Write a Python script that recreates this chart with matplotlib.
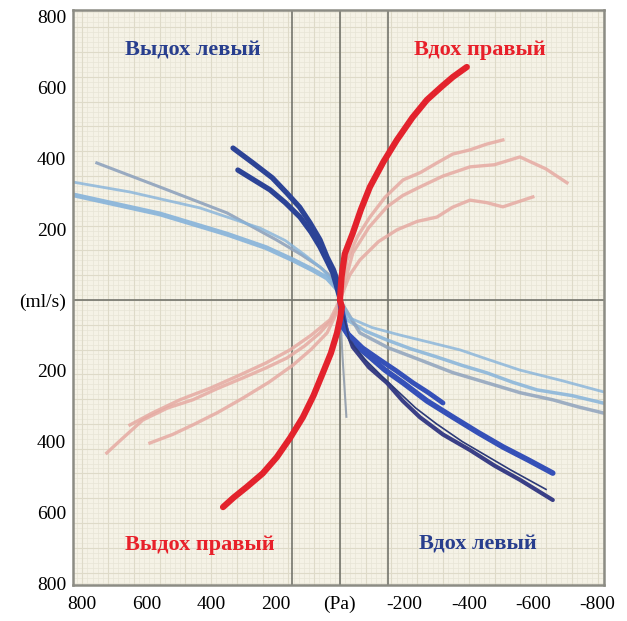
import matplotlib
matplotlib.use("Agg")
import matplotlib.pyplot as plt
import numpy as np

# ---------------- data (Pa vs ml/s) ----------------
x_ticks = [800, 600, 400, 200, 0, -200, -400, -600, -800]
x_labels = ['800', '600', '400', '200', '(Pa)', '-200', '-400', '-600', '-800']
y_ticks = [800, 600, 400, 200, 0, -200, -400, -600, -800]
y_labels = ['800', '600', '400', '200', '(ml/s)', '200', '400', '600', '800']

# exhale left (upper left), dark blue
exl_dark1_x = [332, 270, 210, 165, 125, 93, 62, 40, 20, 9, 0]
exl_dark1_y = [429, 387, 345, 302, 262, 218, 170, 121, 85, 56, 8]
exl_dark2_x = [317, 260, 217, 170, 124, 90, 62, 40, 22, 0]
exl_dark2_y = [367, 335, 311, 275, 234, 192, 150, 110, 76, 5]
# exhale left, light blue
exl_light1_x = [755, 559, 351, 196, 120, 62, 30, 9]
exl_light1_y = [387, 319, 246, 169, 128, 93, 68, 42]
exl_light2_x = [829, 652, 435, 248, 170, 109, 55, 22]
exl_light2_y = [333, 305, 260, 203, 168, 127, 88, 51]
exl_light3_x = [829, 559, 351, 230, 146, 85, 40, 6]
exl_light3_y = [297, 243, 186, 148, 113, 85, 62, 28]

# inhale left (lower right), dark blue
inl_dark1_x = [0, -9, -45, -93, -140, -196, -270, -351, -430, -506, -585, -661]
inl_dark1_y = [0, -76, -125, -161, -198, -234, -285, -331, -375, -415, -452, -489]
inl_dark2_x = [0, -15, -40, -90, -146, -195, -248, -320, -404, -480, -559, -661]
inl_dark2_y = [0, -70, -133, -190, -234, -285, -331, -380, -424, -468, -508, -565]
inl_dark3_x = [0, -22, -70, -124, -175, -227, -275, -320]
inl_dark3_y = [0, -93, -135, -169, -200, -234, -262, -291]
inl_dark4_x = [0, -30, -80, -130, -180, -235, -300, -380, -455, -530, -640]
inl_dark4_y = [0, -115, -170, -215, -258, -305, -350, -400, -440, -480, -535]
# inhale left, light blue
inl_light1_x = [0, -22, -80, -146, -220, -301, -380, -457, -535, -612, -720, -817]
inl_light1_y = [0, -56, -88, -113, -138, -161, -185, -206, -232, -254, -270, -291]
inl_light2_x = [0, -62, -150, -248, -350, -457, -560, -661, -740, -817]
inl_light2_y = [0, -93, -135, -169, -205, -234, -262, -282, -302, -319]
inl_light3_x = [0, -31, -100, -186, -280, -373, -460, -559, -690, -820]
inl_light3_y = [0, -51, -78, -99, -120, -141, -168, -198, -228, -260]

# inhale right (upper right), red
inr_red_x = [0, -5, -15, -40, -65, -93, -135, -177, -225, -270, -315, -351, -394]
inr_red_y = [0, 65, 130, 189, 255, 319, 390, 452, 515, 565, 602, 630, 658]
# inhale right, pink
inr_pink1_x = [0, -22, -55, -93, -140, -196, -250, -301, -350, -404, -455, -506]
inr_pink1_y = [0, 113, 180, 234, 290, 339, 360, 387, 412, 424, 440, 452]
inr_pink2_x = [0, -40, -90, -146, -195, -248, -320, -404, -480, -559, -640, -705]
inr_pink2_y = [0, 133, 205, 263, 295, 319, 350, 376, 382, 404, 370, 331]
inr_pink3_x = [0, -30, -62, -120, -177, -240, -301, -350, -404, -455, -506, -599]
inr_pink3_y = [0, 70, 113, 165, 198, 222, 234, 262, 282, 275, 263, 291]

# exhale right (lower left), red
exr_red_x = [0, -6, 0, 9, 28, 53, 82, 115, 155, 196, 240, 289, 330, 363]
exr_red_y = [0, -20, -55, -93, -150, -206, -270, -331, -390, -444, -490, -528, -558, -585]
# exhale right, pink
exr_pink1_x = [0, 9, 30, 62, 110, 165, 230, 301, 380, 457, 535, 612, 680, 724]
exr_pink1_y = [0, -28, -60, -93, -130, -164, -192, -220, -250, -282, -305, -339, -395, -432]
exr_pink2_x = [0, 15, 40, 90, 146, 220, 301, 380, 457, 520, 590]
exr_pink2_y = [0, -45, -93, -140, -184, -232, -277, -318, -353, -380, -404]
exr_pink3_x = [0, 31, 90, 155, 230, 311, 400, 497, 580, 652]
exr_pink3_y = [0, -56, -100, -141, -178, -212, -248, -282, -318, -353]

# grey spike below the origin
spike_x = [0, -4, -8, -14, -20]
spike_y = [-20, -90, -160, -245, -330]

# ---------------- plotting ----------------
fig = plt.figure(figsize=(6.27, 6.21), dpi=100)
ax = fig.add_axes([0.1164, 0.058, 0.8469, 0.9259])
ax.set_facecolor('#f5f2e6')

# graph paper
for gx in np.arange(-816, 830, 16):
    ax.axvline(gx, color='#e8e5d6', lw=0.5, zorder=0)
for gy in np.arange(-812, 820, 14):
    ax.axhline(gy, color='#e8e5d6', lw=0.5, zorder=0)
for gx in np.arange(-800, 830, 80):
    ax.axvline(gx, color='#dedac8', lw=0.8, zorder=0)
for gy in np.arange(-770, 820, 70):
    ax.axhline(gy, color='#dedac8', lw=0.8, zorder=0)
for gx in [-150, 0, 150]:
    ax.axvline(gx, color='#74746c', lw=1.2, zorder=1)
ax.axhline(0, color='#74746c', lw=1.2, zorder=1)

light_blue = '#86b3da'
grey_blue = '#8fa3bd'
dark_blue = '#2c4396'
red = '#e3222c'
pink = '#e6aaa2'

ax.plot(exl_light1_x, exl_light1_y, color=grey_blue, lw=2.2, alpha=0.9, zorder=2)
ax.plot(exl_light2_x, exl_light2_y, color=light_blue, lw=2.0, alpha=0.8, zorder=2)
ax.plot(exl_light3_x, exl_light3_y, color=light_blue, lw=3.5, alpha=0.9, zorder=2)
ax.plot(inl_light1_x, inl_light1_y, color=light_blue, lw=2.5, alpha=0.85, zorder=2)
ax.plot(inl_light2_x, inl_light2_y, color=grey_blue, lw=2.5, alpha=0.85, zorder=2)
ax.plot(inl_light3_x, inl_light3_y, color=light_blue, lw=2.0, alpha=0.8, zorder=2)

for px, py in [(inr_pink1_x, inr_pink1_y), (inr_pink2_x, inr_pink2_y),
               (inr_pink3_x, inr_pink3_y), (exr_pink1_x, exr_pink1_y),
               (exr_pink2_x, exr_pink2_y), (exr_pink3_x, exr_pink3_y)]:
    ax.plot(px, py, color=pink, lw=2.4, alpha=0.85, zorder=2)

ax.plot(spike_x, spike_y, color='#9aa4b0', lw=1.5, zorder=2)

ax.plot(exl_dark1_x, exl_dark1_y, color=dark_blue, lw=3.8, solid_capstyle='round', zorder=3)
ax.plot(exl_dark2_x, exl_dark2_y, color=dark_blue, lw=3.8, solid_capstyle='round', zorder=3)
ax.plot(inl_dark1_x, inl_dark1_y, color='#3550b8', lw=4.0, solid_capstyle='round', zorder=3)
ax.plot(inl_dark2_x, inl_dark2_y, color='#3a3f86', lw=3.0, solid_capstyle='round', zorder=3)
ax.plot(inl_dark3_x, inl_dark3_y, color='#3550b8', lw=3.5, solid_capstyle='round', zorder=3)
ax.plot(inl_dark4_x, inl_dark4_y, color='#2c3a78', lw=1.2, zorder=3)

ax.plot(inr_red_x, inr_red_y, color=red, lw=4.5, solid_capstyle='round', zorder=4)
ax.plot(exr_red_x, exr_red_y, color=red, lw=4.5, solid_capstyle='round', zorder=4)

# quadrant labels
lab_font = dict(family='Liberation Serif', fontsize=16, fontweight='bold', ha='center', va='center')
ax.text(457, 706, 'Выдох левый', color='#283e8e', **lab_font)
ax.text(-435, 706, 'Вдох правый', color='#e8202a', **lab_font)
ax.text(435, -692, 'Выдох правый', color='#e8202a', **lab_font)
ax.text(-429, -692, 'Вдох левый', color='#283e8e', **lab_font)

ax.set_xlim(829, -820)
ax.set_ylim(-805, 819)
ax.set_xticks(x_ticks)
ax.set_xticklabels(x_labels, family='Liberation Serif', fontsize=14)
ax.set_yticks(y_ticks)
ax.set_yticklabels(y_labels, family='Liberation Serif', fontsize=14)
ax.tick_params(length=0, pad=5)
ax.tick_params(axis='x', pad=8)
for s in ax.spines.values():
    s.set_color('#8c8c84')
    s.set_linewidth(1.8)

fig.savefig('out.png', dpi=100)
